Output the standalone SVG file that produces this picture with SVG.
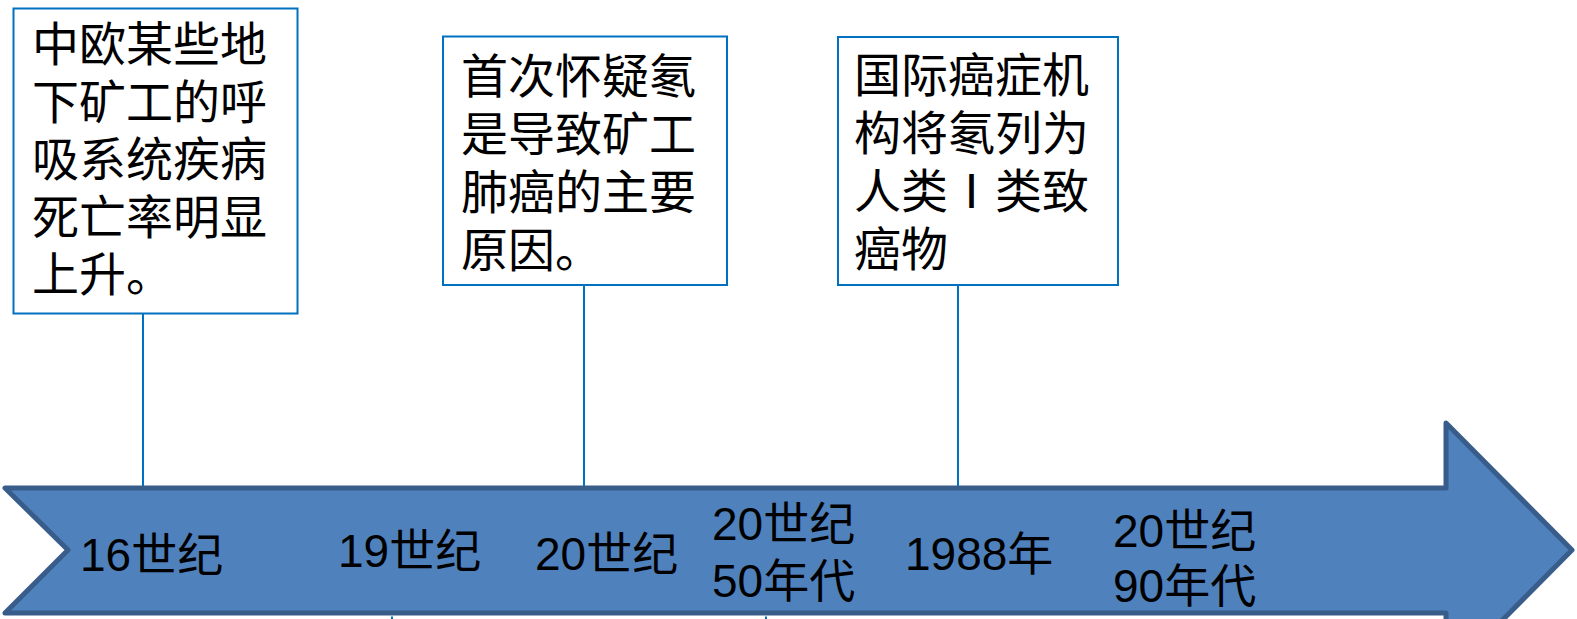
<svg xmlns="http://www.w3.org/2000/svg" width="1577" height="619" viewBox="0 0 1577 619">
<style>
.box{fill:#fff;stroke:#0070C0;stroke-width:2}
.conn{stroke:#0070C0;stroke-width:2;fill:none}
.bt{font-family:"Liberation Sans","Noto Sans CJK SC",sans-serif;font-size:47px;fill:#000}
.lb{font-family:"Liberation Sans","Noto Sans CJK SC",sans-serif;font-size:46px;fill:#000}
</style>
<rect width="1577" height="619" fill="#fff"/>
<g id="timeline">
<path d="M5,488 L1446,488 L1446,423 L1572,550 L1446,677 L1446,613 L5,613 L68,550 Z" fill="#4F81BD" stroke="#385D8A" stroke-width="5" stroke-linejoin="round"/>
</g>
<g id="connectors">
<line class="conn" x1="143" y1="314" x2="143" y2="486"/>
<line class="conn" x1="584" y1="285" x2="584" y2="486"/>
<line class="conn" x1="958" y1="285" x2="958" y2="486"/>
<line class="conn" x1="392" y1="616.5" x2="392" y2="619"/>
<line class="conn" x1="766" y1="616.5" x2="766" y2="619"/>
</g>
<g id="node1">
<rect class="box" x="13.5" y="8.5" width="284" height="305"/>
<text class="bt" x="32" y="61">中欧某些地</text>
<text class="bt" x="32" y="118.5">下矿工的呼</text>
<text class="bt" x="32" y="176">吸系统疾病</text>
<text class="bt" x="32" y="233.5">死亡率明显</text>
<text class="bt" x="32" y="291">上升。</text>
</g>
<g id="node2">
<rect class="box" x="443" y="36.5" width="284" height="248.5"/>
<text class="bt" x="461" y="93">首次怀疑氡</text>
<text class="bt" x="461" y="151">是导致矿工</text>
<text class="bt" x="461" y="209">肺癌的主要</text>
<text class="bt" x="461" y="267">原因。</text>
</g>
<g id="node3">
<rect class="box" x="838" y="37" width="280" height="248"/>
<text class="bt" x="854" y="92">国际癌症机</text>
<text class="bt" x="854" y="150">构将氡列为</text>
<text class="bt" x="854" y="208">人类Ⅰ类致</text>
<text class="bt" x="854" y="266">癌物</text>
</g>
<g id="labels">
<text class="lb" x="80" y="571">16世纪</text>
<text class="lb" x="338" y="567">19世纪</text>
<text class="lb" x="535" y="570">20世纪</text>
<text class="lb" x="712" y="540">20世纪</text>
<text class="lb" x="712" y="597">50年代</text>
<text class="lb" x="905" y="570">1988年</text>
<text class="lb" x="1113" y="547">20世纪</text>
<text class="lb" x="1113" y="602">90年代</text>
</g>
</svg>
